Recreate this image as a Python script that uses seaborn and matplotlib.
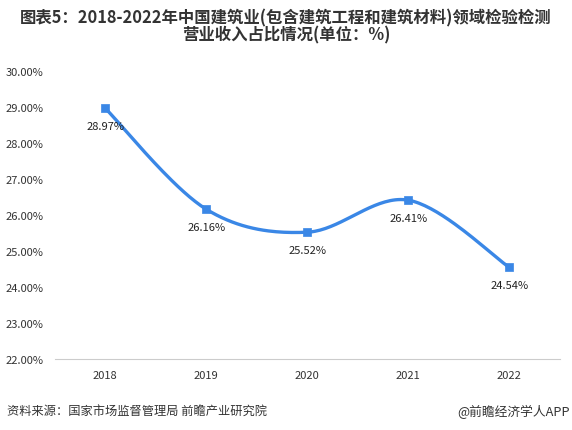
import numpy as np
import pandas as pd
import matplotlib
matplotlib.use("Agg")
import matplotlib.pyplot as plt
import seaborn as sns

years = ["2018", "2019", "2020", "2021", "2022"]
values = [28.97, 26.16, 25.52, 26.41, 24.54]
yticks = [22, 23, 24, 25, 26, 27, 28, 29, 30]
title = "图表5：2018-2022年中国建筑业(包含建筑工程和建筑材料)领域检验检测\n营业收入占比情况(单位：%)"
source = "资料来源：国家市场监督管理局 前瞻产业研究院"
brand = "@前瞻经济学人APP"

sns.set_theme(style="white")
plt.rcParams['font.family'] = ['Noto Sans CJK SC', 'DejaVu Sans']

color = "#3a87e6"
df = pd.DataFrame({"x": np.arange(len(years)), "y": values})

fig = plt.figure(figsize=(5.72, 4.31), dpi=100)
ax = fig.add_axes([0.0953, 0.165, 0.8837, 0.668])

# smooth curve (Catmull-Rom through the data points)
xs = df["x"].to_numpy(dtype=float)
ys = df["y"].to_numpy(dtype=float)
px = np.concatenate([[xs[0]], xs, [xs[-1]]])
py = np.concatenate([[ys[0]], ys, [ys[-1]]])
cx, cy = [], []
t = np.linspace(0, 1, 40)
for i in range(1, len(px) - 2):
    p0, p1, p2, p3 = (np.array([px[j], py[j]]) for j in (i - 1, i, i + 1, i + 2))
    c1 = p1 + (p2 - p0) / 6
    c2 = p2 - (p3 - p1) / 6
    pts = ((1 - t) ** 3)[:, None] * p1 + (3 * (1 - t) ** 2 * t)[:, None] * c1 \
        + (3 * (1 - t) * t ** 2)[:, None] * c2 + (t ** 3)[:, None] * p2
    cx.extend(pts[:, 0]); cy.extend(pts[:, 1])
curve = pd.DataFrame({"x": cx, "y": cy})
sns.lineplot(data=curve, x="x", y="y", ax=ax, color=color, lw=2.4, sort=False, estimator=None)
sns.scatterplot(data=df, x="x", y="y", ax=ax, color=color, marker="s", s=38, edgecolor=color, zorder=5)

for xi, yi in zip(xs, ys):
    ax.annotate(f"{yi:.2f}%", (xi, yi), xytext=(0, -9), textcoords="offset points",
                ha="center", va="top", fontsize=8, color="#222222")

ax.set_xlim(-0.5, len(years) - 0.5)
ax.set_ylim(22, 30)
ax.set_xticks(xs)
ax.set_xticklabels(years, fontsize=8, color="#333333")
ax.set_yticks(yticks)
ax.set_yticklabels([f"{v:.2f}%" for v in yticks], fontsize=8, color="#333333")
ax.tick_params(axis="y", length=0, pad=8)
ax.tick_params(axis="x", length=0, pad=8)
ax.set_xlabel(""); ax.set_ylabel("")
for s in ["top", "right", "left"]:
    ax.spines[s].set_visible(False)
ax.spines["bottom"].set_color("#cccccc")
ax.spines["bottom"].set_linewidth(0.8)
ax.grid(False)

fig.text(0.5, 0.978, title, ha="center", va="top", fontsize=11.8, fontweight="bold",
         color="#333333", linespacing=0.95)
fig.text(0.012, 0.045, source, ha="left", va="center", fontsize=8.8, color="#333333")
fig.text(0.997, 0.045, brand, ha="right", va="center", fontsize=9.2, color="#333333")

fig.savefig("out.png", dpi=100, facecolor="white")
